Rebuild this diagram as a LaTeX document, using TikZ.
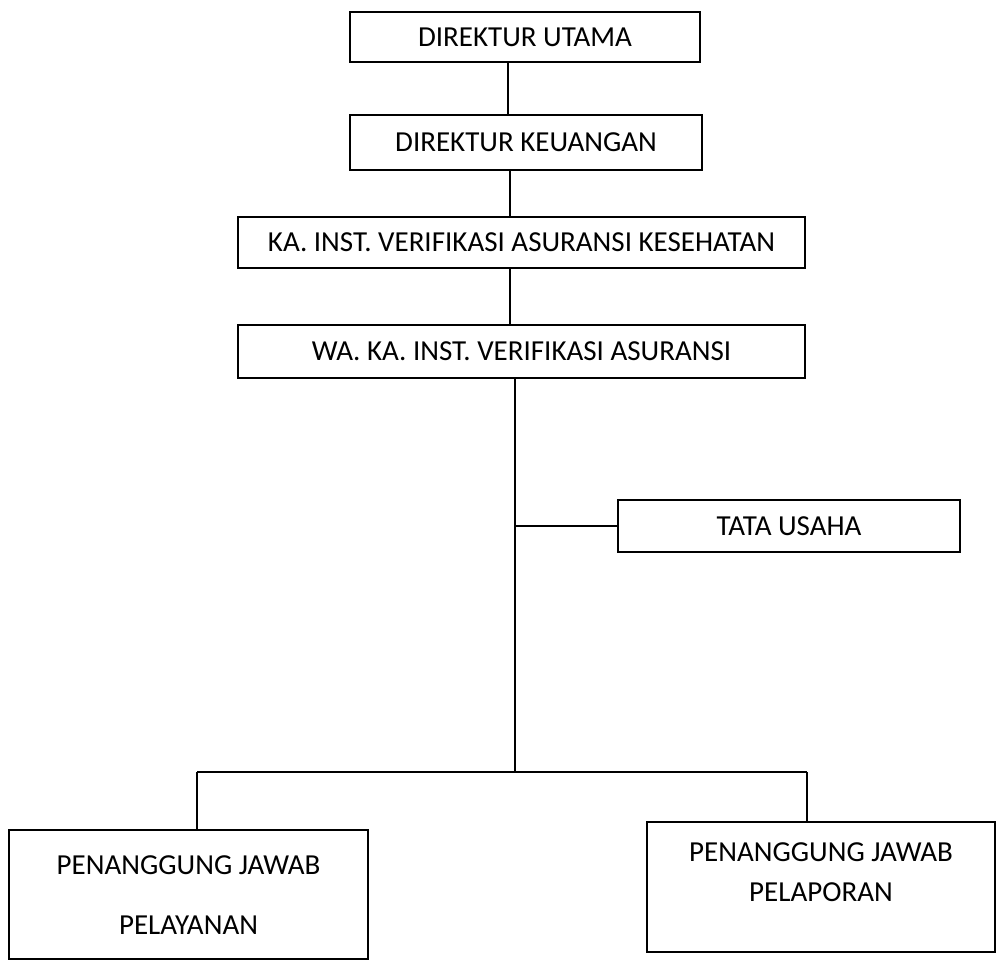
\documentclass[tikz,border=0pt]{standalone}
\usepackage{fontspec}
\setmainfont{Carlito}
\begin{document}
\begin{tikzpicture}[x=1pt,y=-1pt,
  box/.style={draw=black, line width=1.8pt, rectangle, inner sep=0pt, font=\fontsize{29}{34}\selectfont, align=center},
  lbl/.style={inner sep=0pt, font=\fontsize{29}{34}\selectfont, align=center},
  conn/.style={draw=black, line width=1.8pt}]
\useasboundingbox (0,0) rectangle (997,960);
\fill[white] (0,0) rectangle (997,960);
% boxes
\node[box, minimum width=350pt, minimum height=50pt] (du) at (525,37) {DIREKTUR UTAMA};
\node[box, minimum width=352pt, minimum height=55pt] (dk) at (526,142.5) {DIREKTUR KEUANGAN};
\node[box, minimum width=567pt, minimum height=51pt] (ka) at (521.5,242.5) {KA. INST. VERIFIKASI ASURANSI KESEHATAN};
\node[box, minimum width=567pt, minimum height=53pt] (wa) at (521.5,351.5) {WA. KA. INST. VERIFIKASI ASURANSI};
\node[box, minimum width=342pt, minimum height=52pt] (tu) at (789,526) {TATA USAHA};
\node[box, minimum width=359pt, minimum height=129pt] (pjy) at (188.5,894.5) {};
\node[lbl] (pjytext) at (188.5,895) {PENANGGUNG JAWAB\\[26pt]PELAYANAN};
\node[box, minimum width=348pt, minimum height=130pt] (pjl) at (821,887) {};
\node[lbl] (pjltext) at (821,872) {PENANGGUNG JAWAB\\[6pt]PELAPORAN};
% connector coordinates
\coordinate (c1) at (508,0);
\coordinate (c2) at (510,0);
\coordinate (c3) at (510,0);
\coordinate (bus) at (515,772);
\coordinate (busL) at (197,772);
\coordinate (busR) at (807,772);
% connectors
\draw[conn] (du.south -| c1) -- (dk.north -| c1);
\draw[conn] (dk.south -| c2) -- (ka.north -| c2);
\draw[conn] (ka.south -| c3) -- (wa.north -| c3);
\draw[conn] (wa.south -| bus) -- (bus);
\draw[conn] (tu.west -| bus) -- (tu.west);
\draw[conn] (busL) -- (busR);
\draw[conn] (busL) -- (pjy.north -| busL);
\draw[conn] (busR) -- (pjl.north -| busR);
\end{tikzpicture}
\end{document}
